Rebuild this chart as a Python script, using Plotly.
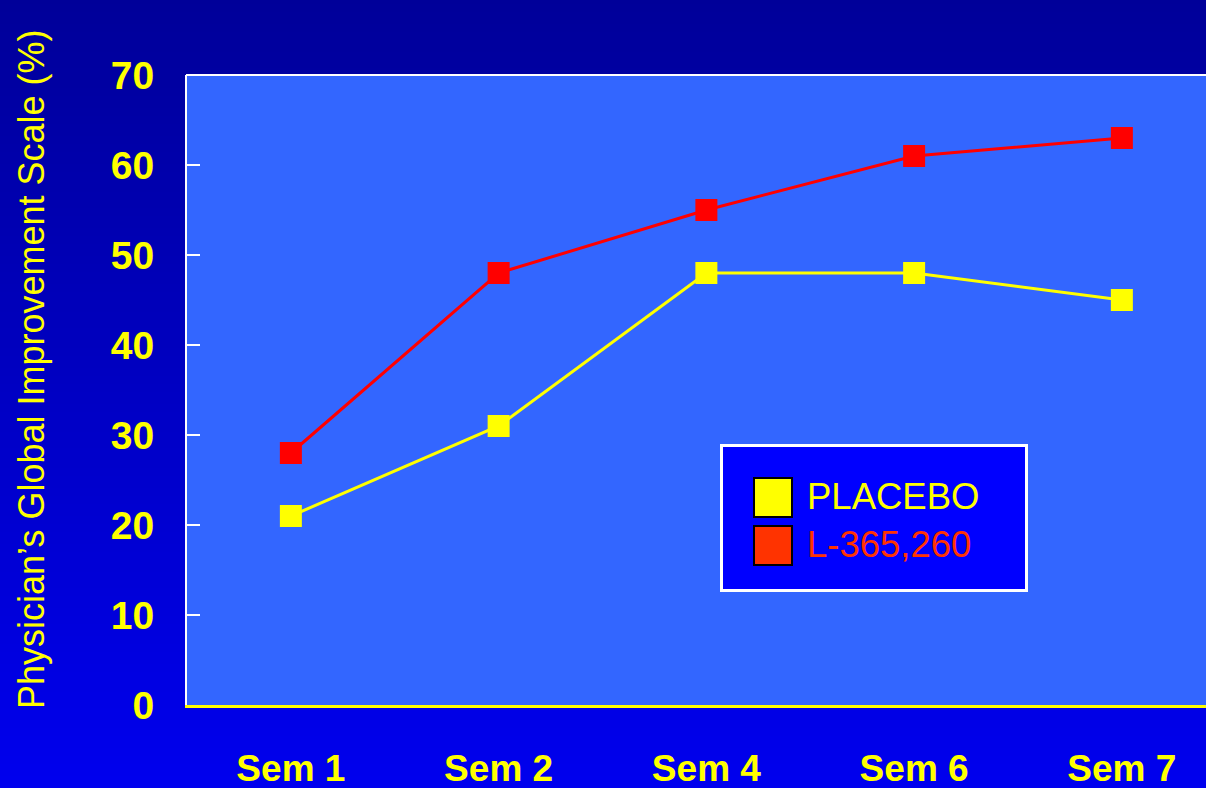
import plotly.graph_objects as go

# Data
weeks = ["Sem 1", "Sem 2", "Sem 4", "Sem 6", "Sem 7"]
placebo = [21, 31, 48, 48, 45]
l365260 = [28, 48, 55, 61, 63]
y_ticks = [0, 10, 20, 30, 40, 50, 60, 70]
series_names = ["PLACEBO", "L-365,260"]

# Canvas geometry (pixels)
W, H = 1206, 788
ML, MR, MT, MB = 187, 0, 75, 83
PW = W - ML - MR
PH = H - MT - MB


def px(x):
    return (x - ML) / PW


def py(y):
    return (H - MB - y) / PH


YELLOW = "#ffff00"
RED = "#ff0000"
LEGEND_RED = "#ff3300"
PLOT_BG = "#3366ff"
FONT = "Arial, Liberation Sans, sans-serif"

shapes = []

# Vertical background gradient (dark navy to bright blue); strips overlap to avoid seams
step = 4
top_rgb = (0, 0, 153)
bot_rgb = (0, 0, 238)
for y0 in range(0, H, step):
    t = (y0 + step / 2) / H
    c = tuple(round(a + (b - a) * t) for a, b in zip(top_rgb, bot_rgb))
    shapes.append(dict(
        type="rect", xref="paper", yref="paper", layer="below",
        x0=px(-2), x1=px(W + 2), y0=py(min(y0 + 2 * step, H + 2)), y1=py(y0),
        fillcolor=f"rgb{c}", line=dict(width=0),
    ))

# Plotting area fill, on top of the gradient
shapes.append(dict(
    type="rect", xref="paper", yref="paper", layer="below",
    x0=0, x1=1, y0=0, y1=1, fillcolor=PLOT_BG, line=dict(width=0),
))

# White top border of the plotting area
shapes.append(dict(
    type="line", xref="paper", yref="paper",
    x0=px(ML - 1), x1=px(W), y0=py(MT), y1=py(MT),
    line=dict(color="white", width=2),
))

# Legend box
shapes.append(dict(
    type="rect", xref="paper", yref="paper",
    x0=px(721.5), x1=px(1026.5), y0=py(590.5), y1=py(445.5),
    fillcolor="#0000ff", line=dict(color="white", width=3),
))
legend_colors = [YELLOW, LEGEND_RED]
legend_rows = [(478, 517), (526, 565)]
for (top, bot), col in zip(legend_rows, legend_colors):
    shapes.append(dict(
        type="rect", xref="paper", yref="paper",
        x0=px(754), x1=px(792), y0=py(bot), y1=py(top),
        fillcolor=col, line=dict(color="black", width=2),
    ))

annotations = []
for (top, bot), col, name in zip(legend_rows, legend_colors, series_names):
    annotations.append(dict(
        xref="paper", yref="paper", x=px(805), y=py((top + bot) / 2 - 1),
        xanchor="left", yanchor="middle", showarrow=False,
        text=name, font=dict(family=FONT, size=36.5, color=col),
    ))

# Y-axis title
annotations.append(dict(
    xref="paper", yref="paper", x=px(31), y=py(369),
    xanchor="center", yanchor="middle", showarrow=False, textangle=-90,
    text="Physician’s Global Improvement Scale (%)",
    font=dict(family=FONT, size=36, color=YELLOW),
))

fig = go.Figure()
fig.add_trace(go.Scatter(
    x=weeks, y=placebo, name=series_names[0], mode="lines+markers",
    line=dict(color=YELLOW, width=3),
    marker=dict(symbol="square", size=22, color=YELLOW),
))
fig.add_trace(go.Scatter(
    x=weeks, y=l365260, name=series_names[1], mode="lines+markers",
    line=dict(color=RED, width=3),
    marker=dict(symbol="square", size=22, color=RED),
))

fig.update_layout(
    width=W, height=H,
    margin=dict(l=ML, r=MR, t=MT, b=MB, pad=0, autoexpand=False),
    paper_bgcolor="#0000cc",
    plot_bgcolor="rgba(0,0,0,0)",
    showlegend=False,
    shapes=shapes,
    annotations=annotations,
    xaxis=dict(
        type="category", range=[-0.5, 4.405], automargin=False,
        showline=True, linecolor=YELLOW, linewidth=3,
        ticks="", showgrid=False, zeroline=False,
        tickfont=dict(family=FONT, size=37, color=YELLOW, weight="bold"),
        ticklabelstandoff=29,
    ),
    yaxis=dict(
        range=[0, 70], tickvals=y_ticks, automargin=False,
        showline=True, linecolor="white", linewidth=2,
        ticks="inside", ticklen=13, tickwidth=2, tickcolor="white",
        showgrid=False, zeroline=False,
        tickfont=dict(family=FONT, size=39, color=YELLOW, weight="bold"),
        ticklabelstandoff=23,
    ),
)

fig.write_html("out.html")
